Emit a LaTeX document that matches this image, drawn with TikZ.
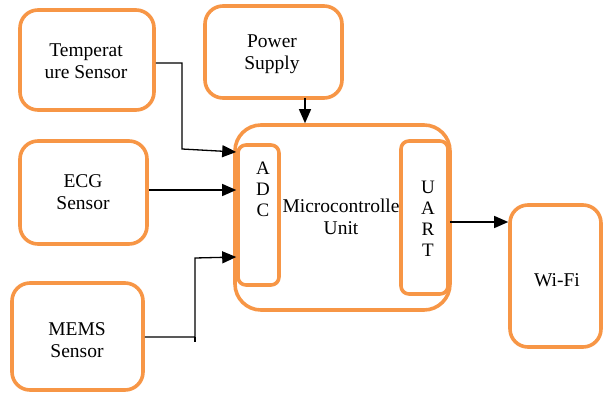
\documentclass[tikz,border=0pt]{standalone}
\usepackage{fontspec}
\setmainfont{Liberation Serif}
\usetikzlibrary{arrows.meta}
\definecolor{boxorange}{HTML}{F79646}
\begin{document}
\begin{tikzpicture}[x=1pt,y=-1pt,
  blk/.style={draw=boxorange,line width=3.6pt,rounded corners=18pt,align=center,inner sep=0pt},
  sub/.style={draw=boxorange,line width=3.6pt,rounded corners=8pt,align=center,inner sep=0pt},
  arr/.style={line width=1.3pt,-{Triangle[length=14pt,width=12pt]}},
  lbl/.style={align=center,inner sep=0pt,font=\fontsize{19.5}{21.5}\selectfont},
  stack/.style={align=center,inner sep=0pt,font=\fontsize{19}{21}\selectfont}]
\useasboundingbox (0,0) rectangle (604,393);
\node[blk,minimum width=134pt,minimum height=100pt] (temp) at (87,60) {};
\node[lbl] at (86,61) {Temperat\\ure Sensor};
\node[blk,minimum width=137pt,minimum height=92pt] (power) at (273.5,52) {};
\node[lbl] at (272,54) {Power\\Supply};
\node[blk,minimum width=127pt,minimum height=103pt] (ecg) at (83.5,192.5) {};
\node[lbl] at (83,192) {ECG\\Sensor};
\node[blk,minimum width=131pt,minimum height=107pt] (mems) at (77.5,336.5) {};
\node[lbl] at (77,340) {MEMS\\Sensor};
\node[blk,rounded corners=26pt,minimum width=215pt,minimum height=185pt] (mcu) at (342.5,217.5) {};
\node[sub,minimum width=41pt,minimum height=140pt] (adc) at (258.5,215) {};
\node[stack] at (263,189) {A\\D\\C};
\node[sub,minimum width=47pt,minimum height=153pt] (uart) at (424.5,217.5) {};
\node[stack] at (428,219) {U\\A\\R\\T};
\node[lbl] (mcutext) at (341,217) {Microcontrolle\\Unit};
\node[blk,minimum width=91pt,minimum height=142pt] (wifi) at (555.5,276) {};
\node[lbl] at (557,280) {Wi-Fi};
% connectors
\coordinate (t1) at (182,63);
\coordinate (t2) at (182,149);
\draw[arr] (temp.east |- t1) -- (t1) -- (t2) -- (adc.west |- 0,152);
\draw[arr] (ecg.east |- 0,190) -- (adc.west |- 0,190);
\coordinate (m1) at (195,337);
\coordinate (m2) at (195,258);
\draw[line width=1.3pt] (m1) -- (195,342);
\draw[arr] (mems.east |- m1) -- (m1) -- (m2) -- (adc.west |- 0,257);
\coordinate (p1) at (305,98);
\draw[arr] (p1) -- (mcu.north -| p1);
\draw[arr] (uart.east |- 0,222) -- (wifi.west |- 0,222);
\end{tikzpicture}
\end{document}
